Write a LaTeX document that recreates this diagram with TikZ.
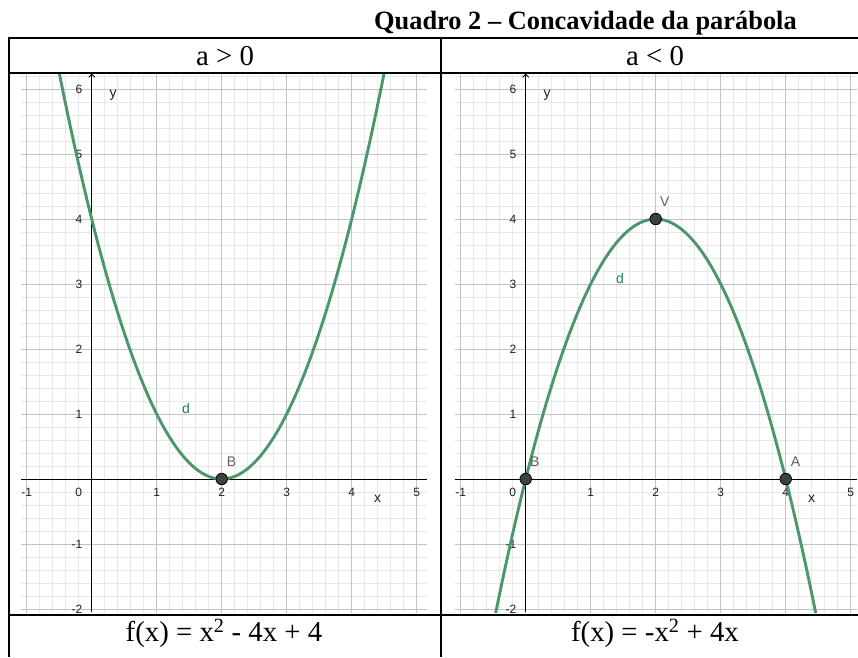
\documentclass[tikz,border=0pt]{standalone}
\usepackage{fontspec}
\setmainfont{Liberation Serif}
\newfontfamily\ggbfont{Liberation Sans}
\usetikzlibrary{arrows.meta}
\definecolor{curvegreen}{RGB}{76,150,108}
\definecolor{labelgreen}{RGB}{40,125,75}
\definecolor{minorgridc}{RGB}{232,232,232}
\definecolor{majorgridc}{RGB}{195,195,195}
\definecolor{ptfill}{RGB}{64,64,64}
\definecolor{ticklab}{RGB}{30,30,30}
\definecolor{ptlab}{RGB}{95,95,95}
\tikzset{
  minorgrid/.style={draw=minorgridc, line width=0.8pt},
  majorgrid/.style={draw=majorgridc, line width=1pt},
  axisline/.style={draw=black, line width=0.9pt},
  curveline/.style={draw=curvegreen, line width=2.9pt},
  ticklabel/.style={font=\ggbfont\fontsize{12}{13}\selectfont, text=ticklab, inner sep=0pt},
  axislabel/.style={font=\ggbfont\fontsize{14}{16}\selectfont, text=ticklab, inner sep=0pt},
  ptlabel/.style={font=\ggbfont\fontsize{14}{16}\selectfont, text=ptlab, inner sep=0pt},
  dlabel/.style={font=\ggbfont\fontsize{14}{16}\selectfont, text=labelgreen, inner sep=0pt},
  ggbpoint/.style={circle, fill=ptfill, draw=black, line width=0.8pt, minimum size=11.5pt, inner sep=0pt},
  tableline/.style={draw=black, line width=2pt},
  celltext/.style={font=\fontsize{28.8}{32}\selectfont, inner sep=0pt},
  titletext/.style={font=\bfseries\fontsize{26.4}{30}\selectfont, inner sep=0pt}
}
\newcommand\ggbaxes[3]{%
  % #1 prefix, #2 xmin, #3 xmax
  \begin{scope}
    \clip (#2,-2.046) rectangle (#3,6.246);
    \foreach \i in {-6,...,26} \draw[minorgrid] (\i/5,-2.2) -- (\i/5,6.4);
    \foreach \i in {-11,...,32} \draw[minorgrid] (#2,\i/5) -- (#3,\i/5);
    \foreach \i in {-1,...,5} \draw[majorgrid] (\i,-2.2) -- (\i,6.4);
    \foreach \i in {-2,...,6} \draw[majorgrid] (#2,\i) -- (#3,\i);
    \coordinate (#1xl) at (#2,0);
    \coordinate (#1xr) at (#3,0);
    \coordinate (#1yb) at (0,-2.046);
    \coordinate (#1yt) at (0,6.236);
    \draw[axisline] (#1xl) -- (#1xr);
    \draw[axisline, -{Straight Barb[length=3pt,width=6pt]}] (#1yb) -- (#1yt);
  \end{scope}
  \foreach \i in {-1,1,2,3,4,5} \node[ticklabel] (#1tx\i) at (\i,-0.21) {\i};
  \node[ticklabel] (#1tx0) at (-0.2,-0.21) {0};
  \foreach \i in {-2,-1,1,2,3,4,5,6} \node[ticklabel, anchor=east] (#1ty\i) at (-0.14,\i) {\i};
  \node[axislabel] (#1xlab) at (4.4,-0.31) {x};
  \node[axislabel] (#1ylab) at (0.33,5.9) {y};
}
\begin{document}
\begin{tikzpicture}[x=1pt,y=-1pt]
\useasboundingbox (0,0) rectangle (858,657);
\fill[white] (0,0) rectangle (858,657);

% left plot
\begin{scope}[shift={(91.7pt,-479pt)}, x=65pt, y=65pt]
  \ggbaxes{L}{-1.088}{5.158}
  \begin{scope}
    \clip (-1.088,-2.046) rectangle (5.158,6.246);
    \draw[curveline, domain=-0.6:4.6, samples=120, smooth] plot (\x,{(\x-2)*(\x-2)});
  \end{scope}
  \node[dlabel] (Ld) at (1.45,1.09) {d};
  \node[ggbpoint] (LB) at (2,0) {};
  \node[ptlabel] (LBlab) at (2.15,0.26) {B};
\end{scope}

% right plot
\begin{scope}[shift={(525.7pt,-479pt)}, x=65pt, y=65pt]
  \ggbaxes{R}{-1.088}{5.1}
  \begin{scope}
    \clip (-1.088,-2.046) rectangle (5.1,6.246);
    \draw[curveline, domain=-0.6:4.6, samples=120, smooth] plot (\x,{-\x*\x+4*\x});
  \end{scope}
  \node[dlabel] (Rd) at (1.45,3.08) {d};
  \node[ggbpoint] (RV) at (2,4) {};
  \node[ggbpoint] (RB) at (0,0) {};
  \node[ggbpoint] (RA) at (4,0) {};
  \node[ptlabel] (RVlab) at (2.14,4.27) {V};
  \node[ptlabel] (RBlab) at (0.14,0.26) {B};
  \node[ptlabel] (RAlab) at (4.15,0.26) {A};
\end{scope}

% header area white
\fill[white] (9,37.5) rectangle (858,72.5);
\fill[white] (9,614.5) rectangle (858,657);

% table lines
\coordinate (tl) at (9,37.5);
\coordinate (tr) at (858,37.5);
\coordinate (hl) at (9,72.5);
\coordinate (hr) at (858,72.5);
\coordinate (fl) at (9,614.5);
\coordinate (fr) at (858,614.5);
\coordinate (lb) at (9,657);
\coordinate (mt) at (441,37.5);
\coordinate (mb) at (441,657);
\draw[tableline] (tl) -- (tr);
\draw[tableline] (hl) -- (hr);
\draw[tableline] (fl) -- (fr);
\draw[tableline] ([yshift=1pt]tl) -- (lb);
\draw[tableline] ([yshift=1pt]mt) -- (mb);

% texts
\node[titletext, anchor=base east] (title) at (797,29.5) {Quadro 2 – Concavidade da parábola};
\node[celltext, anchor=base] (h1) at (225,65.5) {a > 0};
\node[celltext, anchor=base] (h2) at (655,65.5) {a < 0};
\node[celltext, anchor=base] (f1) at (224,641.5) {f(x) = x\textsuperscript{2} - 4x + 4};
\node[celltext, anchor=base] (f2) at (655,641.5) {f(x) = -x\textsuperscript{2} + 4x};
\end{tikzpicture}
\end{document}
